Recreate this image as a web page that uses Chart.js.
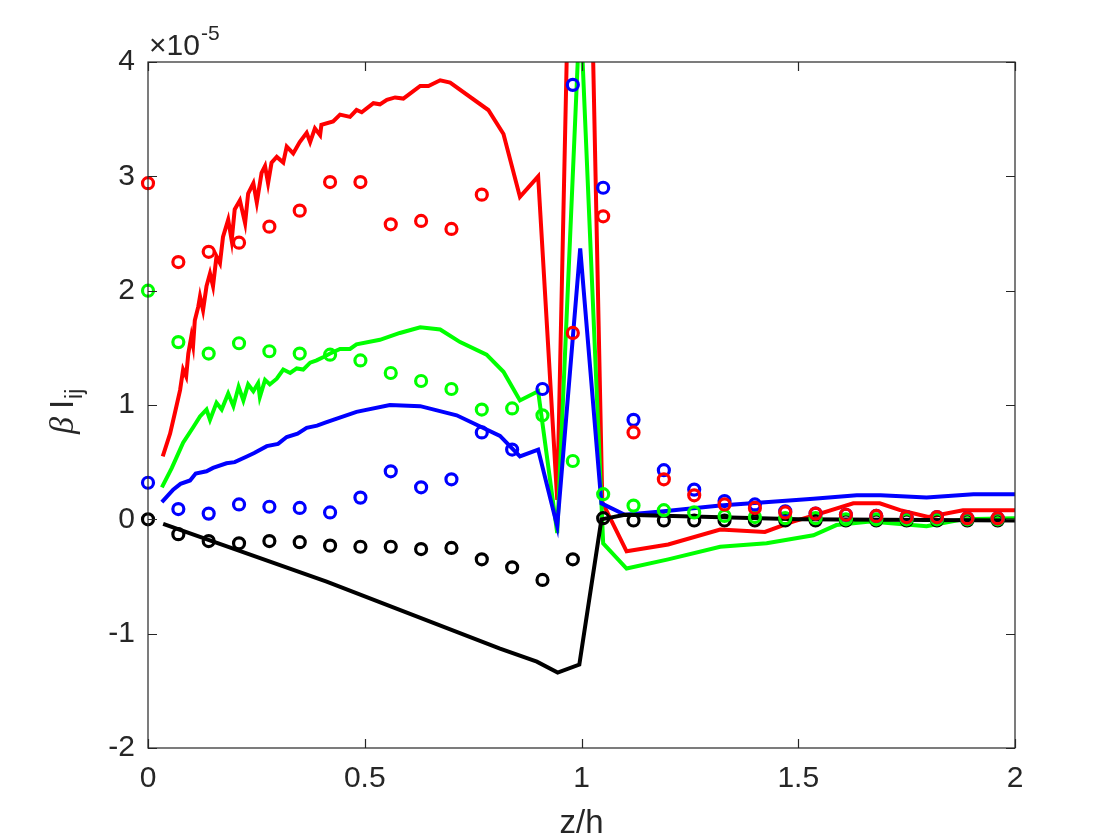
<!DOCTYPE html>
<html>
<head>
<meta charset="utf-8">
<script src="https://cdn.jsdelivr.net/npm/chart.js@4.4.1/dist/chart.umd.min.js"></script>
<style>
  html, body { margin: 0; padding: 0; background: #fff; }
  #wrap { width: 1120px; height: 840px; position: relative; }
</style>
</head>
<body>
<div id="wrap"><canvas id="grafico"></canvas></div>
<script>
// valores em unidades de 1e-5

const zMarcas = [0, 0.07, 0.14, 0.21, 0.28, 0.35, 0.42, 0.49, 0.56, 0.63, 0.70, 0.77, 0.84, 0.91, 0.98,
  1.05, 1.12, 1.19, 1.26, 1.33, 1.40, 1.47, 1.54, 1.61, 1.68, 1.75, 1.82, 1.89, 1.96];
const vermelhoMarcas = [2.94, 2.25, 2.34, 2.42, 2.56, 2.70, 2.95, 2.95, 2.58, 2.61, 2.54, 2.84, null, null, 1.63,
  2.65, 0.76, 0.35, 0.21, 0.13, 0.10, 0.06, 0.05, 0.04, 0.03, 0.02, 0.02, 0.01, 0.01];
const verdeMarcas = [2.00, 1.55, 1.45, 1.54, 1.47, 1.45, 1.44, 1.39, 1.28, 1.21, 1.14, 0.96, 0.97, 0.91, 0.51,
  0.22, 0.12, 0.08, 0.06, 0.03, 0.02, 0.01, 0.01, 0.0, 0.0, 0.0, 0.0, 0.0, 0.0];
const azulMarcas = [0.32, 0.09, 0.05, 0.13, 0.11, 0.10, 0.06, 0.19, 0.42, 0.28, 0.35, 0.76, 0.61, 1.14, 3.80,
  2.90, 0.87, 0.43, 0.26, 0.16, 0.13, 0.07, 0.05, 0.04, 0.03, 0.02, 0.02, 0.01, 0.01];
const pretoMarcas = [0.0, -0.13, -0.19, -0.21, -0.19, -0.20, -0.23, -0.24, -0.24, -0.26, -0.25, -0.35, -0.42, -0.53, -0.35,
  0.01, -0.01, -0.01, -0.01, -0.01, -0.01, -0.01, -0.01, -0.01, -0.01, -0.01, -0.01, -0.01, -0.01];

const zVermelho = [0.034, 0.051, 0.062, 0.074, 0.081, 0.088, 0.093, 0.100, 0.104, 0.108, 0.116, 0.120, 0.127, 0.135,
  0.143, 0.150, 0.158, 0.166, 0.173, 0.185, 0.193, 0.200, 0.212, 0.224, 0.231, 0.243, 0.251, 0.262, 0.270, 0.277,
  0.285, 0.297, 0.312, 0.320, 0.335, 0.350, 0.366, 0.374, 0.385, 0.397, 0.400, 0.427, 0.443, 0.466, 0.481, 0.493,
  0.520, 0.535, 0.551, 0.570, 0.589, 0.628, 0.647, 0.674, 0.697, 0.785, 0.820, 0.858, 0.900, 0.944, 0.997, 1.048,
  1.104, 1.200, 1.320, 1.423, 1.488, 1.550, 1.627, 1.688, 1.735, 1.800, 1.880, 2.000];
const vermelhoLinha = [0.55, 0.75, 0.93, 1.13, 1.31, 1.25, 1.45, 1.60, 1.52, 1.74, 1.86, 1.95, 1.83, 2.04,
  2.15, 2.04, 2.30, 2.24, 2.47, 2.62, 2.44, 2.71, 2.79, 2.59, 2.85, 2.94, 2.77, 3.03, 3.09, 2.94,
  3.12, 3.17, 3.12, 3.26, 3.20, 3.30, 3.38, 3.30, 3.42, 3.36, 3.45, 3.48, 3.54, 3.52, 3.58, 3.56,
  3.64, 3.63, 3.67, 3.69, 3.68, 3.79, 3.79, 3.84, 3.82, 3.58, 3.37, 2.82, 3.00, 0.17, 9.5, 0.15,
  -0.28, -0.22, -0.09, -0.11, -0.02, 0.05, 0.14, 0.14, 0.08, 0.02, 0.08, 0.08];

const zVerde = [0.032, 0.055, 0.081, 0.105, 0.120, 0.135, 0.143, 0.158, 0.170, 0.185, 0.197, 0.209, 0.220, 0.231,
  0.243, 0.254, 0.258, 0.270, 0.281, 0.297, 0.312, 0.328, 0.343, 0.358, 0.374, 0.389, 0.405, 0.420, 0.443, 0.466,
  0.481, 0.535, 0.581, 0.628, 0.674, 0.720, 0.781, 0.820, 0.858, 0.900, 0.944, 0.997, 1.050, 1.104, 1.200, 1.320,
  1.427, 1.535, 1.588, 1.666, 1.796, 1.880, 2.000];
const verdeLinha = [0.28, 0.45, 0.67, 0.81, 0.90, 0.96, 0.87, 1.02, 0.96, 1.10, 0.99, 1.16, 1.04, 1.18,
  1.12, 1.19, 1.07, 1.22, 1.18, 1.23, 1.31, 1.28, 1.32, 1.31, 1.37, 1.39, 1.42, 1.45, 1.49, 1.49,
  1.53, 1.57, 1.63, 1.68, 1.66, 1.55, 1.44, 1.29, 1.04, 1.12, -0.12, 4.5, -0.21, -0.43, -0.35, -0.24,
  -0.21, -0.14, -0.05, -0.02, -0.06, 0.0, 0.01];

const zAzul = [0.032, 0.058, 0.075, 0.097, 0.110, 0.135, 0.150, 0.181, 0.200, 0.228, 0.245, 0.274, 0.300, 0.320,
  0.345, 0.366, 0.390, 0.412, 0.481, 0.558, 0.628, 0.712, 0.812, 0.858, 0.900, 0.944, 0.997, 1.046, 1.100,
  1.190, 1.320, 1.535, 1.635, 1.690, 1.796, 1.904, 2.000];
const azulLinha = [0.15, 0.26, 0.31, 0.34, 0.40, 0.42, 0.45, 0.49, 0.50, 0.55, 0.58, 0.64, 0.66, 0.72,
  0.75, 0.80, 0.82, 0.85, 0.94, 1.00, 0.99, 0.91, 0.73, 0.55, 0.61, -0.06, 2.37, 0.14, 0.04,
  0.07, 0.12, 0.18, 0.21, 0.21, 0.19, 0.22, 0.22];

const zPreto = [0.035, 0.412, 0.812, 0.897, 0.945, 0.995, 1.046, 1.100, 1.300, 1.500, 2.000];
const pretoLinha = [-0.04, -0.545, -1.13, -1.245, -1.34, -1.27, 0.0, 0.04, 0.02, 0.0, -0.01];

const xTicks = [0, 0.5, 1, 1.5, 2];
const yTicks = [-2, -1, 0, 1, 2, 3, 4];

const pares = (xs, ys) => xs.map((x, i) => ({ x: x, y: ys[i] }));

const COR_EIXO = '#262626';
const FONTE = "'Liberation Sans', Arial, sans-serif";

function marcas(label, cor, valores) {
  return {
    label: label,
    data: pares(zMarcas, valores),
    showLine: false,
    pointStyle: 'circle',
    pointRadius: 5.5,
    pointBorderWidth: 3.2,
    pointBorderColor: cor,
    pointBackgroundColor: 'rgba(0,0,0,0)',
    borderColor: cor,
    clip: false
  };
}

function linha(label, cor, xs, ys) {
  return {
    label: label,
    data: pares(xs, ys),
    showLine: true,
    borderColor: cor,
    borderWidth: 4,
    pointRadius: 0,
    tension: 0,
    clip: 0
  };
}

// caixa, ticks para dentro, expoente e rótulos
const molduraPlugin = {
  id: 'moldura',
  afterDatasetsDraw(chart) {
    const ctx = chart.ctx;
    const a = chart.chartArea;
    const sx = chart.scales.x, sy = chart.scales.y;
    ctx.save();
    ctx.strokeStyle = COR_EIXO;
    ctx.lineWidth = 1.2;
    ctx.strokeRect(a.left, a.top, a.right - a.left, a.bottom - a.top);
    const L = 9;
    ctx.beginPath();
    xTicks.forEach(v => {
      const p = Math.round(sx.getPixelForValue(v)) + 0.5;
      ctx.moveTo(p, a.bottom); ctx.lineTo(p, a.bottom - L);
      ctx.moveTo(p, a.top); ctx.lineTo(p, a.top + L);
    });
    yTicks.forEach(v => {
      const p = Math.round(sy.getPixelForValue(v)) + 0.5;
      ctx.moveTo(a.left, p); ctx.lineTo(a.left + L, p);
      ctx.moveTo(a.right, p); ctx.lineTo(a.right - L, p);
    });
    ctx.stroke();

    // ×10^-5
    ctx.fillStyle = COR_EIXO;
    ctx.textBaseline = 'alphabetic';
    ctx.textAlign = 'left';
    ctx.font = '30px ' + FONTE;
    ctx.fillText('\u00d710', a.left + 1, 55);
    const w = ctx.measureText('\u00d710').width;
    ctx.font = '21px ' + FONTE;
    ctx.fillText('-5', a.left + 1 + w + 1, 40);

    // z/h
    ctx.font = '33px ' + FONTE;
    ctx.textAlign = 'center';
    ctx.fillText('z/h', (a.left + a.right) / 2, 833);

    // β I_ij
    ctx.save();
    ctx.translate(73, 434);
    ctx.rotate(-Math.PI / 2);
    ctx.textAlign = 'left';
    ctx.font = "italic 34px 'Liberation Serif', 'DejaVu Serif', serif";
    ctx.fillText('\u03b2', 0, 0);
    let x = ctx.measureText('\u03b2').width + 8;
    ctx.font = '33px ' + FONTE;
    ctx.fillText('I', x, 0);
    x += ctx.measureText('I').width + 1;
    ctx.font = '23px ' + FONTE;
    ctx.fillText('ij', x, 9);
    ctx.restore();

    ctx.restore();
  }
};

const ctxGrafico = document.getElementById('grafico').getContext('2d');
const grafico = new Chart(ctxGrafico, {
  type: 'scatter',
  data: {
    datasets: [
      marcas('vermelho o', '#ff0000', vermelhoMarcas),
      marcas('azul o', '#0000ff', azulMarcas),
      marcas('verde o', '#00ff00', verdeMarcas),
      marcas('preto o', '#000000', pretoMarcas),
      linha('preto', '#000000', zPreto, pretoLinha),
      linha('azul', '#0000ff', zAzul, azulLinha),
      linha('verde', '#00ff00', zVerde, verdeLinha),
      linha('vermelho', '#ff0000', zVermelho, vermelhoLinha)
    ]
  },
  options: {
    responsive: true,
    maintainAspectRatio: false,
    animation: false,
    layout: { padding: { left: 0, right: 105, top: 62, bottom: 0 } },
    plugins: {
      legend: { display: false },
      tooltip: { enabled: false }
    },
    scales: {
      x: {
        type: 'linear',
        min: 0,
        max: 2,
        afterBuildTicks: (s) => { s.ticks = xTicks.map(v => ({ value: v })); },
        afterFit: (s) => { s.height = 92; },
        grid: { display: false, drawTicks: false },
        border: { display: false },
        ticks: {
          color: COR_EIXO, font: { family: FONTE, size: 30 }, padding: 13, maxRotation: 0,
          callback: (v) => String(v)
        }
      },
      y: {
        type: 'linear',
        min: -2,
        max: 4,
        afterBuildTicks: (s) => { s.ticks = yTicks.map(v => ({ value: v })); },
        afterFit: (s) => { s.width = 148; },
        grid: { display: false, drawTicks: false },
        border: { display: false },
        ticks: { color: COR_EIXO, font: { family: FONTE, size: 30 }, padding: 13, callback: (v) => String(v) }
      }
    }
  },
  plugins: [molduraPlugin]
});
</script>
</body>
</html>
